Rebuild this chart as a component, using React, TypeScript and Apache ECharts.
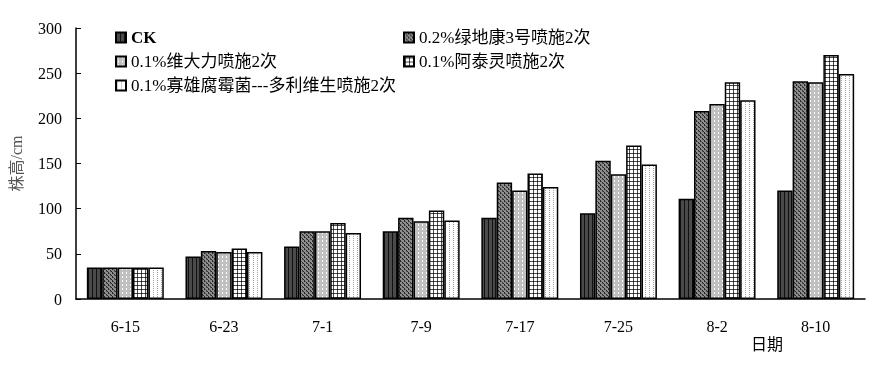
import React, { useEffect, useRef } from "react";
import * as echarts from "echarts";

const categories = ["6-15", "6-23", "7-1", "7-9", "7-17", "7-25", "8-2", "8-10"];
const seriesNames = [
  "CK",
  "0.2%绿地康3号喷施2次",
  "0.1%维大力喷施2次",
  "0.1%阿泰灵喷施2次",
  "0.1%寡雄腐霉菌---多利维生喷施2次",
];
const ckValues = [35, 47, 58, 75, 90, 95, 111, 120];
const ldkValues = [35, 53, 75, 90, 129, 153, 208, 241];
const wdlValues = [35, 52, 75, 86, 120, 138, 216, 240];
const atlValues = [35, 56, 84, 98, 139, 170, 240, 270];
const gxValues = [35, 52, 73, 87, 124, 149, 220, 249];
const yTicks = [0, 50, 100, 150, 200, 250, 300];

const FONT = '"Liberation Serif", "Times New Roman", "Noto Sans CJK SC", serif';

function makeTile(rows: string[][]): string {
  const h = rows.length;
  const w = rows[0].length;
  const c = document.createElement("canvas");
  c.width = w;
  c.height = h;
  const ctx = c.getContext("2d")!;
  for (let y = 0; y < h; y++) {
    for (let x = 0; x < w; x++) {
      ctx.fillStyle = rows[y][x];
      ctx.fillRect(x, y, 1, 1);
    }
  }
  return c.toDataURL();
}

export default function App() {
  const ref = useRef<HTMLDivElement>(null);
  useEffect(() => {
    if (!ref.current) return;
    const chart = echarts.init(ref.current, null, { renderer: "svg" });

    const K = "#111111", D = "#4a4a4a", G = "#8e8e8e", M = "#5a5a5a", L = "#c0c0c0", W = "#ffffff", P = "#a0a0a0", S = "#bdbdbd", B = "#2a2a2a";
    const tiles = [
      [[K, D, D, D]],
      [
        [B, G, G, G],
        [B, M, G, G],
        [G, G, B, G],
        [G, G, M, B],
      ],
      [
        [L, L, W, L],
        [L, L, W, L],
        [L, S, L, L],
        [L, L, L, L],
      ],
      [
        [W, D, W, W],
        [D, K, D, D],
        [W, D, W, W],
        [W, D, W, W],
      ],
      [
        [W, P, W, W],
        [W, W, W, W],
        [W, P, W, W],
        [W, W, W, W],
      ],
    ];
    const patterns = tiles.map((t) => ({
      image: makeTile(t),
      repeat: "repeat",
      imageWidth: t[0].length,
      imageHeight: t.length,
    }));

    const values = [ckValues, ldkValues, wdlValues, atlValues, gxValues];
    const legendPos = [
      { left: 115, top: 29 },
      { left: 403, top: 29 },
      { left: 115, top: 53 },
      { left: 403, top: 53 },
      { left: 115, top: 77 },
    ];

    chart.setOption({
      animation: false,
      grid: { left: 76, right: 8, top: 28, bottom: 67, containLabel: false, outerBoundsMode: "none" },
      legend: seriesNames.map((n, i) => ({
        data: [n],
        left: legendPos[i].left,
        top: legendPos[i].top,
        padding: 0,
        itemWidth: 10,
        itemHeight: 10,
        itemGap: 5,
        icon: "rect",
        selectedMode: false,
        textStyle: {
          fontFamily: FONT,
          fontSize: 17,
          color: "#000",
          fontWeight: i === 0 ? "bold" : "normal",
          padding: [0, 0, 0, 0],
        },
      })),
      xAxis: {
        type: "category",
        data: categories,
        axisLine: { lineStyle: { color: "#000", width: 1.5 } },
        axisTick: { show: false },
        axisLabel: { fontFamily: FONT, fontSize: 16, color: "#000", margin: 19 },
      },
      yAxis: {
        type: "value",
        min: yTicks[0],
        max: yTicks[yTicks.length - 1],
        interval: 50,
        name: "株高/cm",
        nameLocation: "middle",
        nameRotate: 90,
        nameGap: 52,
        nameTextStyle: { fontFamily: FONT, fontSize: 16, color: "#555" },
        axisLine: { show: true, lineStyle: { color: "#000", width: 1.5 } },
        axisTick: { show: true, inside: true, length: 5, lineStyle: { color: "#000" } },
        splitLine: { show: false },
        axisLabel: { fontFamily: FONT, fontSize: 16, color: "#000", margin: 14 },
      },
      graphic: [
        {
          type: "text",
          left: 751,
          top: 336,
          style: { text: "日期", fontFamily: FONT, fontSize: 16, fill: "#000" },
        },
      ],
      series: seriesNames.map((n, i) => ({
        name: n,
        type: "bar",
        data: values[i],
        barGap: "0%",
        barCategoryGap: "22%",
        itemStyle: { color: patterns[i], borderColor: "#000", borderWidth: 1.5 },
      })),
    });
    return () => chart.dispose();
  }, []);
  return (
    <div
      ref={ref}
      style={{ position: "fixed", left: 0, top: 0, width: 873, height: 366 }}
    />
  );
}
